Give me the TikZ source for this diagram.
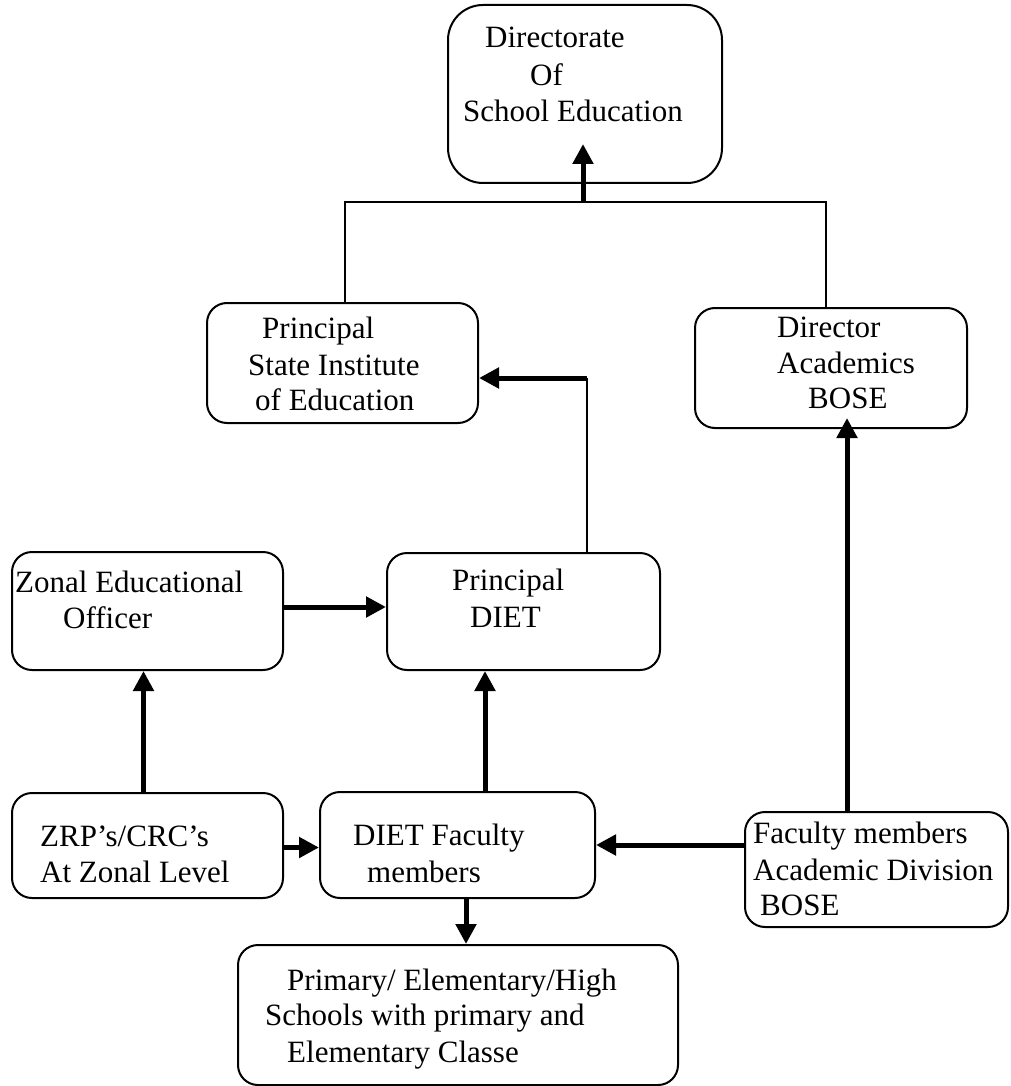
\documentclass[tikz,border=0pt]{standalone}
\usepackage{fontspec}
\setmainfont{Liberation Serif}
\usetikzlibrary{arrows.meta,calc}
\tikzset{
  box/.style={draw, line width=2pt, rounded corners=20pt, inner sep=0pt},
  txt/.style={anchor=base west, inner sep=0pt, font=\fontsize{31}{37}\selectfont},
  conn/.style={line width=2pt},
  arr/.style={line width=5pt, -{Triangle[length=20pt,width=20pt]}},
}
\begin{document}
\begin{tikzpicture}[x=1pt,y=-1pt]
\useasboundingbox (0,0) rectangle (1010,1086);
% boxes
\node[box, rounded corners=35pt, minimum width=274pt, minimum height=178pt] (dir) at (585,94) {};
\node[box, minimum width=271pt, minimum height=120pt] (sie) at (342.5,363) {};
\node[box, minimum width=272pt, minimum height=120pt] (dac) at (831,368) {};
\node[box, minimum width=271pt, minimum height=118pt] (zeo) at (147.5,611) {};
\node[box, minimum width=273pt, minimum height=117pt] (pd) at (523.5,611.5) {};
\node[box, minimum width=271pt, minimum height=105pt] (zrp) at (147.5,845.5) {};
\node[box, minimum width=275pt, minimum height=106pt] (dfm) at (457.5,845) {};
\node[box, minimum width=263pt, minimum height=115pt] (fab) at (876.5,869.5) {};
\node[box, minimum width=440pt, minimum height=140pt] (sch) at (458,1015) {};
% texts
\node[txt] (dir1) at (485,48) {Directorate};
\node[txt] (dir2) at (530,86) {Of};
\node[txt] (dir3) at (463,122) {School Education};
\node[txt] (sie1) at (262,338) {Principal};
\node[txt] (sie2) at (248,375) {State Institute};
\node[txt] (sie3) at (255,410) {of Education};
\node[txt] (dac1) at (777,337) {Director};
\node[txt] (dac2) at (777,373) {Academics};
\node[txt] (dac3) at (808,408) {BOSE};
\node[txt] (zeo1) at (15,592) {Zonal Educational};
\node[txt] (zeo2) at (63,628) {Officer};
\node[txt] (pd1) at (452,590) {Principal};
\node[txt] (pd2) at (470,627) {DIET};
\node[txt] (zrp1) at (40,846) {ZRP’s/CRC’s};
\node[txt] (zrp2) at (40,882) {At Zonal Level};
\node[txt] (dfm1) at (353,845) {DIET Faculty};
\node[txt] (dfm2) at (367,882) {members};
\node[txt] (fab1) at (753,843) {Faculty members};
\node[txt] (fab2) at (753,880) {Academic Division};
\node[txt] (fab3) at (760,915) {BOSE};
\node[txt] (sch1) at (287,990) {Primary/ Elementary/High};
\node[txt] (sch2) at (265,1025) {Schools with primary and};
\node[txt] (sch3) at (287,1062) {Elementary Classe};
% connectors
\coordinate (j) at (583,202);
\draw[conn] ([xshift=2.5pt]sie.north) |- (j) -| ([xshift=-5pt]dac.north);
\draw[arr] (j) -- ([yshift=40pt]dir.south -| j);
\coordinate (k) at (587,378);
\draw[conn] (pd.north -| k) -- (k);
\draw[arr] (k) -- (sie.east |- k);
\draw[arr] ([yshift=4pt]zeo.east) -- ([yshift=4pt]zeo.east -| pd.west);
\draw[arr] ([xshift=-4pt]zrp.north) -- ([xshift=-4pt]zeo.south);
\coordinate (m) at (485,792);
\draw[arr] (dfm.north -| m) -- (pd.south -| m);
\draw[arr] ([yshift=-2pt]zrp.east) -- ([yshift=-2pt]zrp.east -| dfm.west);
\draw[arr] (fab.west |- dfm.east) -- (dfm.east);
\coordinate (n) at (847,812);
\draw[arr] (fab.north -| n) -- ([yshift=11pt]dac.south -| n);
\coordinate (p) at (466,898);
\draw[arr] (dfm.south -| p) -- (sch.north -| p);
\end{tikzpicture}
\end{document}
